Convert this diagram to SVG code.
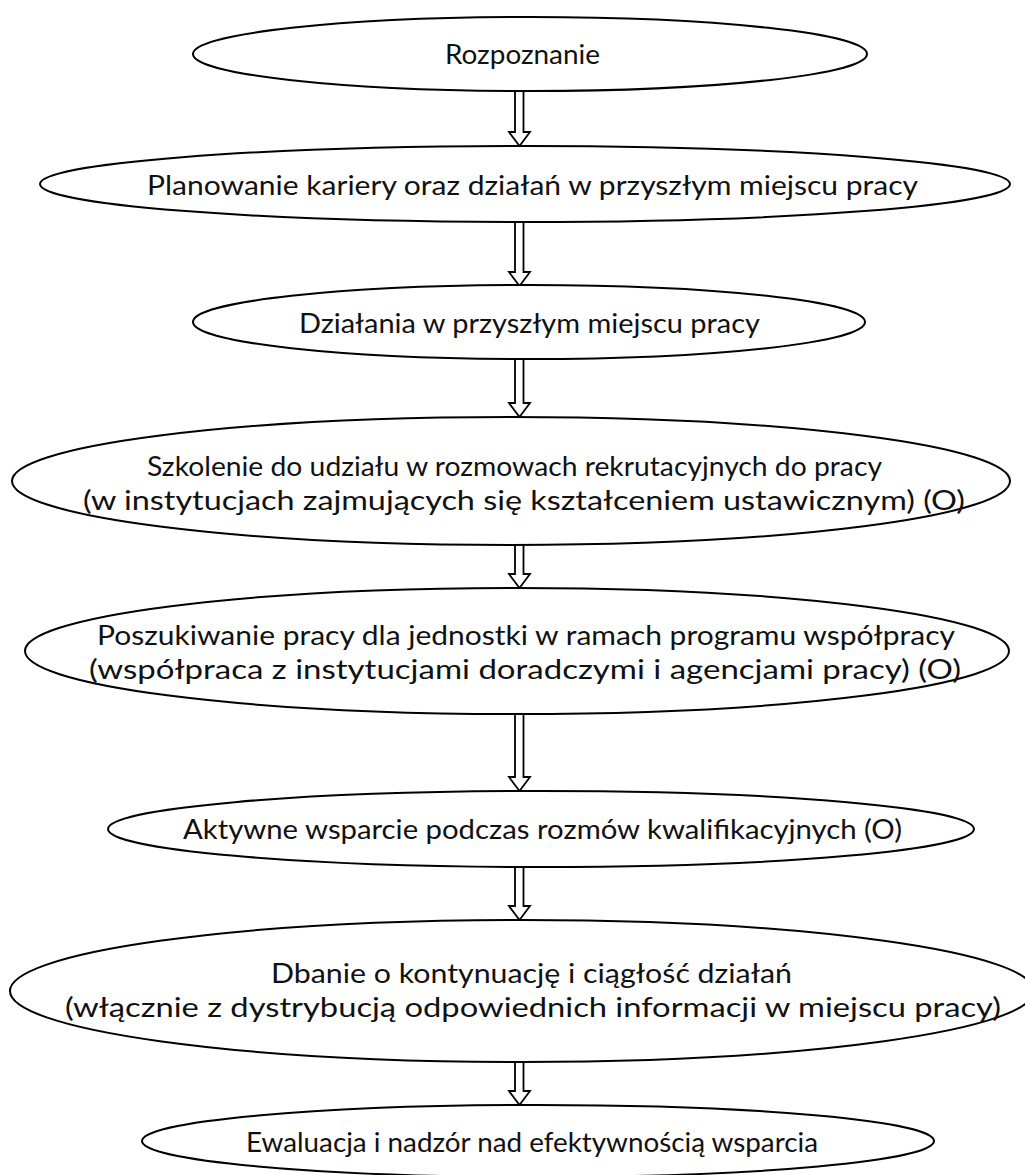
<svg xmlns="http://www.w3.org/2000/svg" width="1025" height="1175" viewBox="0 0 1025 1175">
<style>
.node ellipse{fill:#fff;stroke:#000;stroke-width:2}
.node text{font-family:Lato,"Open Sans","Liberation Sans",sans-serif;font-size:26px;fill:#111}
.arr path{fill:#fff;stroke:#000;stroke-width:1.8;stroke-linejoin:miter}
</style>
<rect width="1025" height="1175" fill="#fff"/>
<g id="connectors" class="arr">
<path d="M515,91 V132 H509 L519.5,146 L530,132 H523.5 V91"/>
<path d="M515,222 V272 H509 L519.5,286 L530,272 H523.5 V222"/>
<path d="M515,359 V403 H509 L519.5,417 L530,403 H523.5 V359"/>
<path d="M515,545 V574 H509 L519.5,588 L530,574 H523.5 V545"/>
<path d="M515,714 V777 H509 L519.5,791 L530,777 H523.5 V714"/>
<path d="M515,867 V906 H509 L519.5,920 L530,906 H523.5 V867"/>
<path d="M515,1062 V1091 H509 L519.5,1105 L530,1091 H523.5 V1062"/>
</g>
<g id="n1" class="node"><ellipse cx="530" cy="54" rx="337" ry="37"/><text x="445" y="64" textLength="155" lengthAdjust="spacingAndGlyphs">Rozpoznanie</text></g>
<g id="n2" class="node"><ellipse cx="525" cy="184" rx="485" ry="38"/><text x="147" y="195" textLength="771" lengthAdjust="spacingAndGlyphs">Planowanie kariery oraz działań w przyszłym miejscu pracy</text></g>
<g id="n3" class="node"><ellipse cx="529" cy="322" rx="336" ry="37"/><text x="299" y="333" textLength="461" lengthAdjust="spacingAndGlyphs">Działania w przyszłym miejscu pracy</text></g>
<g id="n4" class="node"><ellipse cx="511" cy="481" rx="499" ry="64"/><text x="147" y="476" textLength="735" lengthAdjust="spacingAndGlyphs">Szkolenie do udziału w rozmowach rekrutacyjnych do pracy</text><text x="83" y="510" textLength="882" lengthAdjust="spacingAndGlyphs">(w instytucjach zajmujących się kształceniem ustawicznym) (O)</text></g>
<g id="n5" class="node"><ellipse cx="517" cy="651" rx="492" ry="63"/><text x="97" y="645" textLength="858" lengthAdjust="spacingAndGlyphs">Poszukiwanie pracy dla jednostki w ramach programu współpracy</text><text x="89" y="679" textLength="872" lengthAdjust="spacingAndGlyphs">(współpraca z instytucjami doradczymi i agencjami pracy) (O)</text></g>
<g id="n6" class="node"><ellipse cx="541" cy="829" rx="433" ry="38"/><text x="183" y="839" textLength="719" lengthAdjust="spacingAndGlyphs">Aktywne wsparcie podczas rozmów kwalifikacyjnych (O)</text></g>
<g id="n7" class="node"><ellipse cx="522" cy="991" rx="512" ry="71"/><text x="271" y="983" textLength="521" lengthAdjust="spacingAndGlyphs">Dbanie o kontynuację i ciągłość działań</text><text x="65" y="1017" textLength="936" lengthAdjust="spacingAndGlyphs">(włącznie z dystrybucją odpowiednich informacji w miejscu pracy)</text></g>
<g id="n8" class="node"><ellipse cx="538" cy="1141" rx="396" ry="36"/><text x="246" y="1152" textLength="572" lengthAdjust="spacingAndGlyphs">Ewaluacja i nadzór nad efektywnością wsparcia</text></g>
</svg>
